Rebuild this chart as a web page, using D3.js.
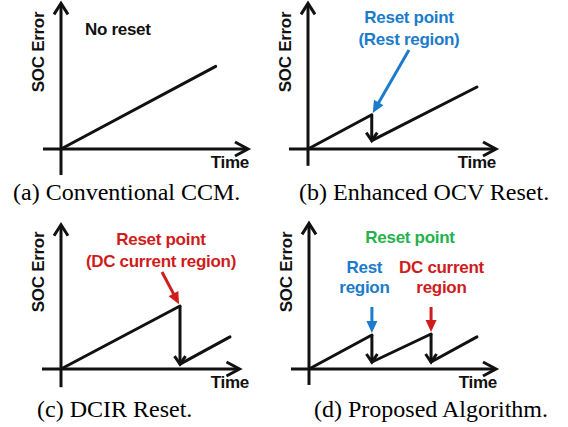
<!DOCTYPE html>
<html>
<head>
<meta charset="utf-8">
<script src="https://cdn.jsdelivr.net/npm/d3@7"></script>
<style>
  html, body { margin: 0; padding: 0; background: #fff; }
  svg { display: block; }
  .lbl { font-family: "Liberation Sans", Arial, sans-serif; font-weight: bold; font-size: 17px; letter-spacing: -0.3px; }
  .cap { font-family: "Liberation Serif", "Times New Roman", serif; font-size: 24px; }
</style>
</head>
<body>
<svg id="chart" width="568" height="427"></svg>
<script>
// ---- data: SOC error traces (time, error) for the four reset strategies ----
const captions = ["(a) Conventional CCM.", "(b) Enhanced OCV Reset.", "(c) DCIR Reset.", "(d) Proposed Algorithm."];
const yLabel = "SOC Error";
const xLabel = "Time";

const timeA = [0, 9.1];
const errorA = [0, 5.9];
const timeB = [0, 3.75, 3.75, 9.94];
const errorB = [0, 2.45, 0.6, 4.43];
const timeC = [0, 7.0, 7.0, 9.94];
const errorC = [0, 4.5, 0.35, 2.29];
const timeD = [0, 3.7, 3.7, 7.18, 7.18, 9.88];
const errorD = [0, 2.43, 0.5, 2.5, 0.5, 2.29];

const noteTextA = ["No reset"];
const noteTextB = ["Reset point", "(Rest region)"];
const noteTextC = ["Reset point", "(DC current region)"];
const noteTextD = ["Reset point", "Rest", "region", "DC current", "region"];

const COLORS = { ink: "#111", blue: "#1c7ccb", red: "#cf1c1c", green: "#25b24c" };

// ---- layout of each panel (origin in px, axis extents in data units) ----
const frames = [
  { ox: 61,  oy: 149, xLeft: -1.06, xTip: 11.0,  yBottom: -1.86, yTip: 10.4, capX: 13,  capY: 200 },
  { ox: 308, oy: 149, xLeft: -1.12, xTip: 11.06, yBottom: -1.2,  yTip: 10.4, capX: 299, capY: 200 },
  { ox: 61,  oy: 369, xLeft: -1.12, xTip: 10.5,  yBottom: -1.3,  yTip: 10.3, capX: 37,  capY: 417 },
  { ox: 309, oy: 369, xLeft: -1.06, xTip: 11.0,  yBottom: -1.14, yTip: 10.4, capX: 314, capY: 417 }
];

// text placement (data units) and pointer arrows for each panel
const notesLayout = [
  { labels: [{ i: 0, t: 1.41, e: 8.14, anchor: "start", color: "ink" }], pointers: [] },
  { labels: [{ i: 0, t: 5.94, e: 9.0, anchor: "middle", color: "blue" },
             { i: 1, t: 5.94, e: 7.43, anchor: "middle", color: "blue" }],
    pointers: [{ from: [5.94, 7.07], toPoint: 1, color: "blue" }] },
  { labels: [{ i: 0, t: 5.88, e: 8.86, anchor: "middle", color: "red" },
             { i: 1, t: 5.88, e: 7.29, anchor: "middle", color: "red" }],
    pointers: [{ from: [5.94, 6.93], toPoint: 1, color: "red" }] },
  { labels: [{ i: 0, t: 5.94, e: 9.0, anchor: "middle", color: "green" },
             { i: 1, t: 3.26, e: 6.86, anchor: "middle", color: "blue" },
             { i: 2, t: 3.26, e: 5.43, anchor: "middle", color: "blue" },
             { i: 3, t: 7.79, e: 6.86, anchor: "middle", color: "red" },
             { i: 4, t: 7.79, e: 5.43, anchor: "middle", color: "red" }],
    pointers: [{ from: [3.7, 4.43], toPoint: 1, color: "blue" },
               { from: [7.18, 4.43], toPoint: 3, color: "red" }] }
];

const series = [
  { time: timeA, error: errorA, notes: noteTextA },
  { time: timeB, error: errorB, notes: noteTextB },
  { time: timeC, error: errorC, notes: noteTextC },
  { time: timeD, error: errorD, notes: noteTextD }
];

const svg = d3.select("#chart");

// open chevron arrow head with the tip at (x, y), pointing along angle (radians)
function chevron(g, x, y, angle, len, half, color, width) {
  const ca = Math.cos(angle), sa = Math.sin(angle);
  const bx = x - ca * len, by = y - sa * len;
  const p1 = [bx - sa * half, by + ca * half];
  const p2 = [bx + sa * half, by - ca * half];
  g.append("path")
    .attr("d", d3.line()([p1, [x, y], p2]))
    .attr("fill", "none").attr("stroke", color)
    .attr("stroke-width", width).attr("stroke-linejoin", "miter").attr("stroke-miterlimit", 10);
}

// filled triangular head
function triangle(g, x, y, angle, len, half, color) {
  const ca = Math.cos(angle), sa = Math.sin(angle);
  const bx = x - ca * len, by = y - sa * len;
  g.append("path")
    .attr("d", d3.line()([[x, y], [bx - sa * half, by + ca * half], [bx + sa * half, by - ca * half]]) + "Z")
    .attr("fill", color);
}

frames.forEach((f, k) => {
  const s = series[k];
  const x = d3.scaleLinear().domain([0, 10]).range([f.ox, f.ox + 170]);
  const y = d3.scaleLinear().domain([0, 10]).range([f.oy, f.oy - 140]);
  const g = svg.append("g");

  // axes with arrow heads
  g.append("line")
    .attr("x1", x(f.xLeft)).attr("y1", y(0)).attr("x2", x(f.xTip) - 1).attr("y2", y(0))
    .attr("stroke", COLORS.ink).attr("stroke-width", 3);
  chevron(g, x(f.xTip), y(0), 0, 13, 7, COLORS.ink, 3);
  g.append("line")
    .attr("x1", x(0)).attr("y1", y(f.yBottom)).attr("x2", x(0)).attr("y2", y(f.yTip) + 1)
    .attr("stroke", COLORS.ink).attr("stroke-width", 3);
  chevron(g, x(0), y(f.yTip), -Math.PI / 2, 11, 7, COLORS.ink, 3);

  // axis titles
  g.append("text").attr("class", "lbl")
    .attr("transform", `translate(${f.ox - 17},${f.oy - 97}) rotate(-90)`)
    .attr("text-anchor", "middle").attr("fill", COLORS.ink).text(yLabel);
  g.append("text").attr("class", "lbl")
    .attr("x", f.ox + 188).attr("y", f.oy + 18.5)
    .attr("text-anchor", "end").attr("fill", COLORS.ink).text(xLabel);

  // error trace: rising runs, with drops (same time twice) drawn as arrows
  const pts = s.time.map((t, i) => [t, s.error[i]]);
  let run = [pts[0]];
  const runs = [];
  for (let i = 1; i < pts.length; i++) {
    if (pts[i][0] === pts[i - 1][0]) {
      runs.push(run);
      const px = x(pts[i][0]);
      g.append("line")
        .attr("x1", px).attr("y1", y(pts[i - 1][1]))
        .attr("x2", px).attr("y2", y(pts[i][1]) - 1.5)
        .attr("stroke", COLORS.ink).attr("stroke-width", 3);
      chevron(g, px, y(pts[i][1]), Math.PI / 2, 8, 5.5, COLORS.ink, 3);
      run = [pts[i]];
    } else {
      run.push(pts[i]);
    }
  }
  runs.push(run);
  const line = d3.line().x(d => x(d[0])).y(d => y(d[1]));
  runs.forEach(r => {
    g.append("path").attr("d", line(r))
      .attr("fill", "none").attr("stroke", COLORS.ink)
      .attr("stroke-width", 3).attr("stroke-linecap", "round").attr("stroke-linejoin", "round");
  });

  // annotations
  const lay = notesLayout[k];
  lay.labels.forEach(l => {
    g.append("text").attr("class", "lbl")
      .attr("x", x(l.t)).attr("y", y(l.e))
      .attr("text-anchor", l.anchor).attr("fill", COLORS[l.color])
      .text(s.notes[l.i]);
  });
  lay.pointers.forEach(p => {
    const target = pts[p.toPoint];
    const x0 = x(p.from[0]), y0 = y(p.from[1]);
    const tx = x(target[0]), ty = y(target[1]);
    const ang = Math.atan2(ty - y0, tx - x0);
    // stop just short of the trace
    const x1 = tx - Math.cos(ang) * 2, y1 = ty - Math.sin(ang) * 2;
    g.append("line")
      .attr("x1", x0).attr("y1", y0)
      .attr("x2", x1 - Math.cos(ang) * 8).attr("y2", y1 - Math.sin(ang) * 8)
      .attr("stroke", COLORS[p.color]).attr("stroke-width", 3);
    triangle(g, x1, y1, ang, 12, 5.5, COLORS[p.color]);
  });

  // caption
  svg.append("text").attr("class", "cap")
    .attr("x", f.capX).attr("y", f.capY).attr("fill", "#000")
    .text(captions[k]);
});
</script>
</body>
</html>
